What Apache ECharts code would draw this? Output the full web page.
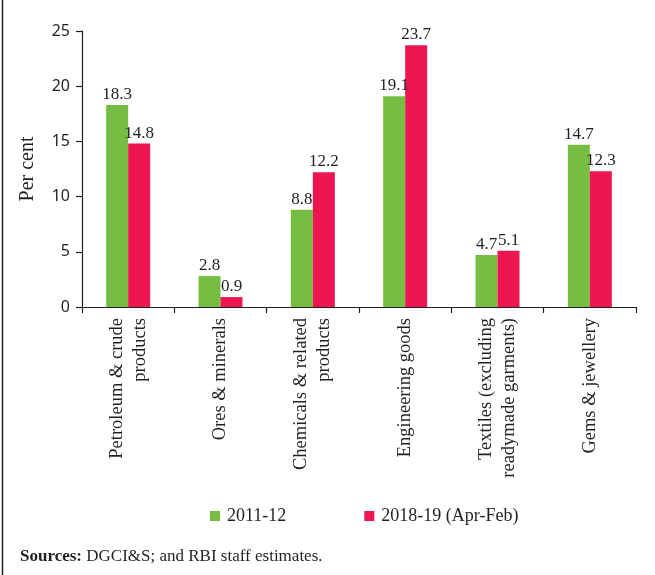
<!DOCTYPE html>
<html>
<head>
<meta charset="utf-8">
<script src="https://cdn.jsdelivr.net/npm/echarts@6/dist/echarts.min.js"></script>
<style>
  html, body { margin: 0; padding: 0; background: #fff; }
  #chart { width: 655px; height: 575px; }
</style>
</head>
<body>
<div id="chart"></div>
<script>
// Export categories and their shares (per cent) in two periods
const categories = [
  'Petroleum & crude\nproducts',
  'Ores & minerals',
  'Chemicals & related\nproducts',
  'Engineering goods',
  'Textiles (excluding\nreadymade garments)',
  'Gems & jewellery'
];
const series2011 = [18.3, 2.8, 8.8, 19.1, 4.7, 14.7];
const series2018 = [14.8, 0.9, 12.2, 23.7, 5.1, 12.3];
const seriesNames = ['2011-12', '2018-19 (Apr-Feb)'];
const yTicks = { min: 0, max: 25, interval: 5 };

const serif = '"Liberation Serif", "DejaVu Serif", serif';
const ink = '#231f20';

const chart = echarts.init(document.getElementById('chart'), null, { renderer: 'canvas' });

const valueLabel = {
  show: true,
  position: 'top',
  distance: 2,
  fontFamily: serif,
  fontSize: 17,
  color: ink,
  formatter: p => p.value.toFixed(1)
};

chart.setOption({
  animation: false,
  backgroundColor: '#fff',
  grid: { left: 82, right: 19, top: 31, bottom: 268, containLabel: false },
  legend: {
    data: seriesNames,
    bottom: 45,
    left: 205,
    itemWidth: 10,
    itemHeight: 10,
    itemGap: 78,
    icon: 'rect',
    textStyle: { fontFamily: serif, fontSize: 18, color: ink, padding: [0, 0, 0, 2] }
  },
  xAxis: {
    type: 'category',
    data: categories,
    axisLine: { lineStyle: { color: ink, width: 1.2 } },
    axisTick: { show: true, length: 6, lineStyle: { color: ink, width: 1.2 } },
    axisLabel: {
      interval: 0,
      rotate: 90,
      margin: 11,
      fontFamily: serif,
      fontSize: 18.5,
      color: ink,
      lineHeight: 23
    }
  },
  yAxis: {
    type: 'value',
    min: yTicks.min,
    max: yTicks.max,
    interval: yTicks.interval,
    name: 'Per cent',
    nameLocation: 'middle',
    nameGap: 44,
    nameRotate: 90,
    nameTextStyle: { fontFamily: serif, fontSize: 20, color: ink },
    axisLine: { show: true, lineStyle: { color: ink, width: 1.2 } },
    axisTick: { show: true, length: 6, lineStyle: { color: ink, width: 1.2 } },
    axisLabel: { margin: 12, fontFamily: '"Noto Sans", sans-serif', fontSize: 16, color: ink },
    splitLine: { show: false }
  },
  series: [
    {
      name: seriesNames[0],
      type: 'bar',
      data: series2011,
      barWidth: 22,
      barGap: '0%',
      itemStyle: { color: '#76be43' },
      label: valueLabel
    },
    {
      name: seriesNames[1],
      type: 'bar',
      data: series2018,
      barWidth: 22,
      itemStyle: { color: '#ee1651' },
      label: valueLabel
    }
  ],
  graphic: [
    {
      type: 'line',
      shape: { x1: 2.5, y1: 0, x2: 2.5, y2: 575 },
      style: { stroke: ink, lineWidth: 1.5 }
    },
    {
      type: 'text',
      left: 20,
      top: 548,
      style: {
        text: '{b|Sources:} DGCI&S; and RBI staff estimates.',
        fontFamily: serif,
        fontSize: 17,
        fill: ink,
        rich: {
          b: { fontFamily: serif, fontSize: 17, fontWeight: 'bold', fill: ink }
        }
      }
    }
  ]
});
</script>
</body>
</html>
